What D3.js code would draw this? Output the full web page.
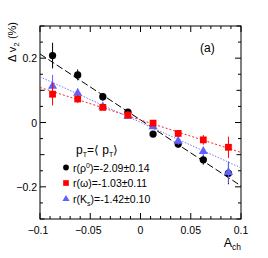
<!DOCTYPE html>
<html>
<head>
<meta charset="utf-8">
<script src="https://cdn.jsdelivr.net/npm/d3@7"></script>
<style>
  body { margin: 0; background: #fff; }
  svg { display: block; }
  text { font-family: "Liberation Sans", Arial, sans-serif; fill: #000; }
</style>
</head>
<body>
<svg width="268" height="258"></svg>
<script>
// bin centres in A_ch
const achBins = [-0.0875, -0.0625, -0.0375, -0.0125, 0.0125, 0.0375, 0.0625, 0.0875];

// delta v2 (%)
const rhoV2 = [0.208, 0.148, 0.080, 0.032, -0.036, -0.067, -0.116, -0.158];
const rhoErr = [0.040, 0.017, 0.012, 0.008, 0.008, 0.012, 0.015, 0.034];
const omegaV2 = [0.088, 0.073, 0.047, 0.023, -0.002, -0.034, -0.054, -0.077];
const omegaErr = [0.035, 0.012, 0.008, 0.006, 0.006, 0.010, 0.015, 0.033];
const ksV2 = [0.113, 0.091, 0.049, 0.020, -0.013, -0.058, -0.090, -0.155];
const ksErr = [0.035, 0.015, 0.008, 0.006, 0.006, 0.012, 0.015, 0.034];

// linear fits: [intercept, slope]
const rhoFit = [0.008, -2.05];
const omegaFit = [0.008, -1.01];
const ksFit = [0.0005, -1.415];

const xTicks = [-0.1, -0.05, 0, 0.05, 0.1];
const yTicks = [-0.2, 0, 0.2];

const svg = d3.select("svg");
const margin = {top: 26, right: 27, bottom: 39, left: 40};
const W = 268, H = 258;

const x = d3.scaleLinear().domain([-0.1, 0.1]).range([margin.left, W - margin.right]);
const y = d3.scaleLinear().domain([-0.3, 0.3]).range([H - margin.bottom, margin.top]);

const x0 = x.range()[0], x1 = x.range()[1];
const y0 = y.range()[0], y1 = y.range()[1];

// frame
svg.append("rect")
  .attr("x", x0).attr("y", y1)
  .attr("width", x1 - x0).attr("height", y0 - y1)
  .attr("fill", "none").attr("stroke", "#000").attr("stroke-width", 1);

// ticks (inward, on all four sides)
const xMinor = d3.range(-10, 11).map(d => d / 100);
xMinor.forEach(v => {
  const major = Math.abs(Math.round(v * 100) % 5) === 0;
  const len = major ? 6 : 3;
  svg.append("line").attr("x1", x(v)).attr("x2", x(v)).attr("y1", y0).attr("y2", y0 - len)
    .attr("stroke", "#000");
  svg.append("line").attr("x1", x(v)).attr("x2", x(v)).attr("y1", y1).attr("y2", y1 + len)
    .attr("stroke", "#000");
});
const yMinor = d3.range(-6, 7).map(d => d * 0.05);
yMinor.forEach((v, i) => {
  const k = i - 6;
  const len = k % 4 === 0 ? 6 : (k % 2 === 0 ? 4.5 : 3);
  svg.append("line").attr("x1", x0).attr("x2", x0 + len).attr("y1", y(v)).attr("y2", y(v))
    .attr("stroke", "#000");
  svg.append("line").attr("x1", x1).attr("x2", x1 - len).attr("y1", y(v)).attr("y2", y(v))
    .attr("stroke", "#000");
});

// tick labels
svg.append("g").selectAll("text").data(xTicks).join("text")
  .attr("x", d => x(d) - (d < 0 ? 2 : 0)).attr("y", y0 + 15)
  .attr("text-anchor", "middle").attr("font-size", 10.5)
  .text(d => d === 0 ? "0" : d3.format("")(d).replace("-", "\u2212"));
svg.append("g").selectAll("text").data(yTicks).join("text")
  .attr("x", x0 - 3).attr("y", d => y(d) + 4)
  .attr("text-anchor", "end").attr("font-size", 10.5)
  .text(d => d === 0 ? "0" : d3.format("")(d).replace("-", "\u2212"));

// axis titles
const xt = svg.append("text").attr("x", x1).attr("y", 247).attr("text-anchor", "end").attr("font-size", 12.5);
xt.append("tspan").text("A");
xt.append("tspan").attr("font-size", 8.5).attr("dy", 3).text("ch");

const yt = svg.append("text").attr("transform", `translate(16,${y1 - 4}) rotate(-90)`)
  .attr("text-anchor", "end").attr("font-size", 11);
yt.append("tspan").text("\u0394 v");
yt.append("tspan").attr("font-size", 8).attr("dy", 3).text("2");
yt.append("tspan").attr("dy", -3).text(" (%)");

svg.append("text").attr("x", 200).attr("y", 52).attr("font-size", 12).text("(a)");

// fit lines
const fitLine = f => d3.line().x(d => x(d)).y(d => y(f[0] + f[1] * d))(x.domain());
svg.append("path").attr("d", fitLine(rhoFit)).attr("stroke", "#000").attr("stroke-width", 1)
  .attr("stroke-dasharray", "7,3").attr("fill", "none");
svg.append("path").attr("d", fitLine(omegaFit)).attr("stroke", "#ff2020").attr("stroke-width", 1)
  .attr("stroke-dasharray", "2,2").attr("fill", "none");
svg.append("path").attr("d", fitLine(ksFit)).attr("stroke", "#7a7aff").attr("stroke-width", 1)
  .attr("stroke-dasharray", "1.5,1.5").attr("fill", "none");

// points with error bars
function series(vals, errs, color, shape) {
  const g = svg.append("g");
  g.selectAll("line").data(vals).join("line")
    .attr("x1", (d, i) => x(achBins[i])).attr("x2", (d, i) => x(achBins[i]))
    .attr("y1", (d, i) => y(d - errs[i])).attr("y2", (d, i) => y(d + errs[i]))
    .attr("stroke", color).attr("stroke-width", 1);
  g.selectAll("path").data(vals).join("path")
    .attr("transform", (d, i) => `translate(${x(achBins[i])},${y(d)})`)
    .attr("d", d3.symbol().type(shape.type).size(shape.size))
    .attr("fill", color);
}
const circle = {type: d3.symbolCircle, size: 42};
const square = {type: d3.symbolSquare, size: 46};
const tri = {type: d3.symbolTriangle, size: 36};

series(rhoV2, rhoErr, "#000", circle);
series(ksV2, ksErr, "#6060ff", tri);
series(omegaV2, omegaErr, "#ff0000", square);

// legend
const lx = 66, tx = 73;
const hd = svg.append("text").attr("x", tx + 3).attr("y", 154).attr("font-size", 12);
hd.append("tspan").text("p");
hd.append("tspan").attr("font-size", 7).attr("dy", 3).text("T");
hd.append("tspan").attr("dy", -3).text("=\u27E8 p");
hd.append("tspan").attr("font-size", 7).attr("dy", 3).text("T");
hd.append("tspan").attr("dy", -3).text("\u27E9");

const legRows = [
  {yc: 167.5, color: "#000", shape: {type: d3.symbolCircle, size: 26}},
  {yc: 183, color: "#ff0000", shape: {type: d3.symbolSquare, size: 32}},
  {yc: 199, color: "#6060ff", shape: {type: d3.symbolTriangle, size: 22}}
];
legRows.forEach(r => {
  svg.append("path").attr("transform", `translate(${lx},${r.yc})`)
    .attr("d", d3.symbol().type(r.shape.type).size(r.shape.size)).attr("fill", r.color);
});
const fs = 10.5;
let t = svg.append("text").attr("x", tx).attr("y", 167.5 + 4).attr("font-size", fs);
t.append("tspan").text("r(\u03C1");
t.append("tspan").attr("font-size", 7).attr("dy", -4).text("0");
t.append("tspan").attr("dy", 4).text(")=-2.09\u00B10.14");
t = svg.append("text").attr("x", tx).attr("y", 183 + 4).attr("font-size", fs);
t.append("tspan").text("r(\u03C9)=-1.03\u00B10.11");
t = svg.append("text").attr("x", tx).attr("y", 199 + 4).attr("font-size", fs);
t.append("tspan").text("r(K");
t.append("tspan").attr("font-size", 7).attr("dy", 3).text("s");
t.append("tspan").attr("dy", -3).text(")=-1.42\u00B10.10");
</script>
</body>
</html>
